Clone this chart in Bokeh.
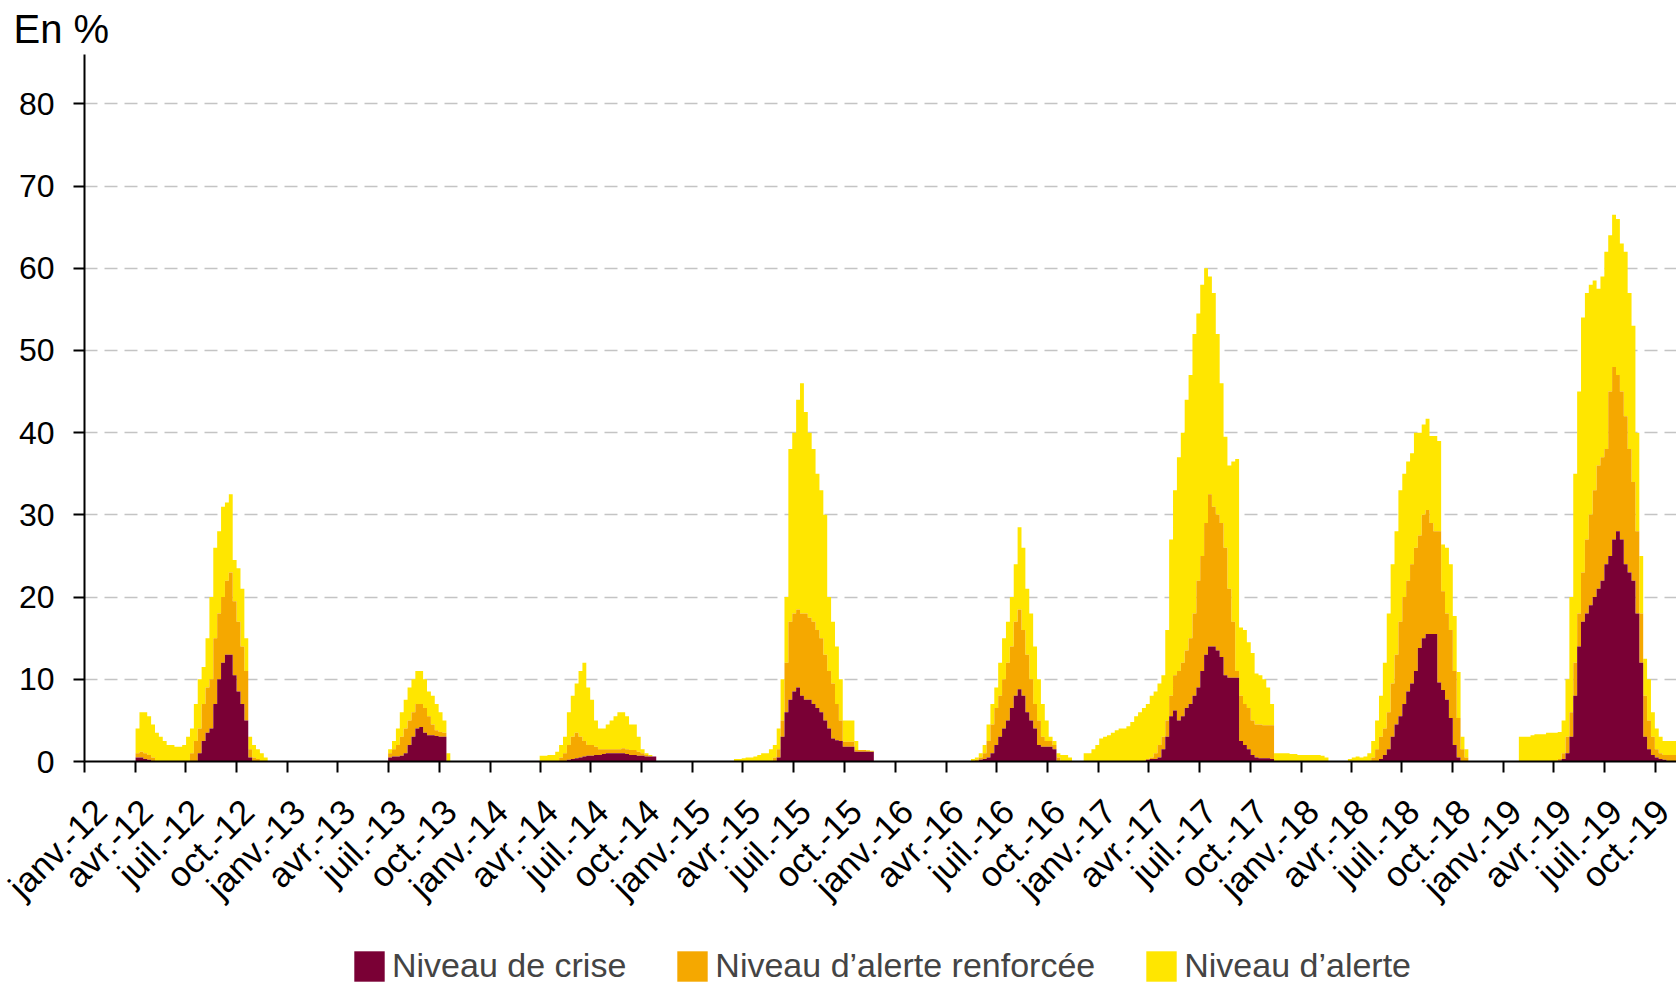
import numpy as np
import pandas as pd
from math import pi
from bokeh.plotting import figure
from bokeh.layouts import column
from bokeh.models import (ColumnDataSource, Range1d, FixedTicker, Legend, LegendItem,
                          LinearAxis)
from bokeh.embed import file_html
from bokeh.resources import INLINE

# ---------------- data ----------------
quarter_months = ["janv.", "avr.", "juil.", "oct."]
first_quarter = "2012-01-01"
last_quarter = "2019-10-01"
range_end = "2019-11-08"
y_ticks = [0, 10, 20, 30, 40, 50, 60, 70, 80]
labels = ["Niveau de crise", "Niveau d\u2019alerte renforc\u00e9e", "Niveau d\u2019alerte"]

# weekly values (%), each season starts on a Monday
start_2012 = "2012-04-02"
crise_2012 = [.5, .5, .3, .2, 0, 0, 0, 0, 0, 0, 0, 0, 0, 0, 0, 0, 1, 2.5, 3.5, 4,
              7, 10, 12, 13, 13, 10.5, 8.5, 7, 5, .5, 0, 0, 0, 0]
renf_2012 = [.5, .7, .7, .6, .5, 0, 0, 0, 0, 0, 0, 0, 0, 0, 1, 2.5, 3, 4.5, 5.5, 6,
             8, 8, 8, 9, 10, 9, 8.5, 7, 6, 1, .5, .3, 0, 0]
alerte_2012 = [3, 4.8, 5, 4.7, 4, 3.5, 3, 2.5, 2, 2, 1.8, 1.8, 2, 3, 3, 4.5, 6, 4.5, 6, 10,
               11, 10, 11, 9.5, 9.5, 5, 6.5, 7, 4, 1.5, 1.5, 1.2, 1, .5]

start_2013 = "2013-07-01"
crise_2013 = [.5, .6, .6, .7, 1, 2, 3, 4, 4.2, 3.5, 3.2, 3.2, 3.1, 3, 3, 0]
renf_2013 = [.5, .9, 1.4, 2.3, 3, 3, 3, 3, 2.8, 3, 2.3, 1.3, .7, .6, .5, 0]
alerte_2013 = [.5, 1, 2, 3, 3.5, 4, 4, 4, 4, 3.5, 3, 3.5, 3.2, 2.4, 1.5, 1]

start_2014 = "2014-03-31"
crise_2014 = [0, 0, 0, 0, 0, 0, 0, .2, .3, .4, .5, .6, .7, .7, .8,
              .8, .9, 1, 1, 1, 1, 1, .9, .8, .8, .7, .7, .6, .6, .6]
renf_2014 = [0, 0, 0, 0, 0, .5, 1, 1.8, 2.7, 3.1, 2.5, 1.9, 1.3, 1.3, 1,
             .7, .6, .5, .5, .5, .5, .6, .6, .6, .6, .5, .3, .2, 0, 0]
alerte_2014 = [.7, .7, .8, .8, 1.2, 1.5, 2, 4, 5, 6, 8, 9.5, 7, 5.5, 3.2,
               2.5, 2.5, 3, 3.5, 4, 4.5, 4.4, 4, 3.1, 3.1, 1.8, .5, .2, .2, 0]

start_2015 = "2015-03-16"
crise_2015 = [0, 0, 0, 0, 0, 0, 0, 0, 0, 0, 0, .5, 3, 6, 7.5, 8.5, 9, 8, 7.5, 7.5,
              7, 6.5, 6, 5, 4, 2.8, 2.6, 2.5, 1.8, 1.8, 1.8, 1.2, 1.2, 1.2, 1.2, 1.2]
renf_2015 = [0, 0, 0, 0, 0, 0, 0, 0, 0, 0, .5, 1, 2, 6, 9.5, 9.5, 9.5, 10, 10.5, 10,
             10, 9.5, 9, 8, 7, 6.7, 4.4, 2.5, .6, .6, .6, .2, .2, .2, .1, 0]
alerte_2015 = [.3, .3, .4, .5, .5, .6, .8, 1, 1, 1.5, 1.5, 2.5, 5, 8, 21, 22, 25.5, 28, 24.5, 22.5,
               21, 19, 18, 17, 9, 7.5, 7, 5, 2.6, 2.6, 2.6, 1.1, 0, 0, .1, .1]

start_2016 = "2016-05-16"
crise_2016 = [0, 0, .2, .3, .5, 1, 2, 3, 4, 5, 6.5, 8, 8.8, 8, 6,
              5, 4, 2, 1.8, 1.8, 1.8, 1.5, 0, 0, 0, 0]
renf_2016 = [0, .2, .3, .7, 2, 3.5, 4.5, 5, 6, 7, 7.5, 9, 9.7, 8, 7,
             5, 3, 3, 1.2, .7, .7, .5, .5, 0, 0, 0]
alerte_2016 = [.3, .3, .5, 1, 2, 2.5, 2.5, 4, 5, 5, 6, 7, 10, 10, 8,
               8, 7, 5, 4, 2.5, .5, .5, .5, .8, .8, .5]

start_2017 = "2016-12-05"
crise_2017 = [0, 0, 0, 0, 0, 0, 0, 0, 0, 0, 0, 0, 0, 0, 0, 0,
              .2, .3, .3, .5, 1.5, 3, 5.5, 6.2, 5, 5.5, 6.5, 7, 8, 9, 11,
              13, 14, 14, 13.5, 12.7, 10.5, 10.2, 10.2, 10.2, 2.5, 2, 1.5, .8, .5, .4,
              .4, .4, .3,
              0, 0, 0, 0, 0, 0, 0, 0, 0, 0, 0, 0, 0, 0]
renf_2017 = [0, 0, 0, 0, 0, 0, 0, 0, 0, 0, 0, 0, 0, 0, 0, 0,
             .1, .2, .7, 1.5, 1.5, 2, 2.5, 4.3, 6, 6.5, 7, 8, 10, 13, 14,
             16, 18.5, 17, 16.5, 16.3, 15.5, 10.8, 6.8, .8, 5.5, 5, 5, 4.2, 4, 4.1,
             4, 4, 4.1,
             0, 0, 0, 0, 0, 0, 0, 0, 0, 0, 0, 0, 0, 0]
alerte_2017 = [1, 1, 1.5, 2, 2.8, 3, 3.2, 3.5, 3.8, 4, 4, 4.3, 4.8, 5.5, 6, 6.5,
               6.7, 7.5, 7.5, 7.5, 7.5, 11, 19, 22.5, 26, 28, 30.5, 32, 34, 32.5, 33,
               31, 26.5, 26, 22, 17, 13.5, 15, 19.5, 25.8, 8.3, 9, 8, 8.2, 6.2, 6,
               5.6, 4.6, 2.6,
               1, 1, 1, 1, .9, .9, .8, .8, .8, .8, .8, .8, .7, .5]

start_2018 = "2018-03-26"
crise_2018 = [0, 0, 0, 0, 0, 0, 0, 0, .3, .8, 1.5, 3, 4.5, 5.5, 7,
              8.5, 9.5, 11, 13.8, 15, 15.5, 15.5, 15.5, 9.6, 8.7, 7.5, 5.3, 2, .5, 0, 0]
renf_2018 = [0, 0, 0, 0, 0, 0, .5, 1.5, 2.7, 3.2, 4.5, 6.5, 8.5, 11.5, 13,
             13.5, 14.5, 15, 13.7, 15, 15.1, 13.5, 12.5, 18.4, 12, 10.5, 10.7, 9, 4.8, 1.5, .5]
alerte_2018 = [.3, .5, .6, .5, .6, 1, 2, 3.5, 5, 8, 12, 14.5, 15, 16, 15,
               14.5, 13.5, 14, 12.5, 11, 11.1, 10.6, 11.6, 11, 5.7, 8, 8, 6.7, 5.6, 1.5, 1]

start_2019 = "2019-01-28"
crise_2019 = [0, 0, 0, 0, 0, 0, 0, 0, 0, 0, .1, .3, 1, 3, 8, 14, 17, 18, 19,
              20, 21, 22, 24, 25, 27, 28, 27, 24, 23, 22, 18, 12, 3, 1.5, .8, .5, .3, .2, 0,
              0, 0]
renf_2019 = [0, 0, 0, 0, 0, 0, 0, 0, 0, 0, .2, .7, 2, 3, 4, 4, 6, 9, 11,
             13, 15, 15, 14, 20, 21, 19, 18, 18, 15, 12, 10, 6, 5, 3.5, 2.2, 1, .7, .6, .8,
             .8, .8]
alerte_2019 = [3, 3, 3, 3.2, 3.3, 3.3, 3.3, 3.5, 3.5, 3.5, 3.3, 4, 7, 14, 23, 27, 31, 30, 28,
               25.5, 21.5, 22, 24, 19, 18.5, 19, 18, 20, 19, 19, 12, 7, 4.5, 5, 3, 2.5, 2, 1.7, 1.7,
               1.7, 1.7]

seasons = [
    (start_2012, crise_2012, renf_2012, alerte_2012),
    (start_2013, crise_2013, renf_2013, alerte_2013),
    (start_2014, crise_2014, renf_2014, alerte_2014),
    (start_2015, crise_2015, renf_2015, alerte_2015),
    (start_2016, crise_2016, renf_2016, alerte_2016),
    (start_2017, crise_2017, renf_2017, alerte_2017),
    (start_2018, crise_2018, renf_2018, alerte_2018),
    (start_2019, crise_2019, renf_2019, alerte_2019),
]

# ---------------- build weekly series ----------------
origin = pd.Timestamp(first_quarter)
weeks = pd.date_range("2012-01-02", "2019-11-11", freq="7D")
n = len(weeks)
crise = np.zeros(n)
renf = np.zeros(n)
alerte = np.zeros(n)
for start, c, r, a in seasons:
    i0 = weeks.get_loc(pd.Timestamp(start))
    crise[i0:i0 + len(c)] += np.array(c, dtype=float)
    renf[i0:i0 + len(r)] += np.array(r, dtype=float)
    alerte[i0:i0 + len(a)] += np.array(a, dtype=float)

x = np.array((weeks - origin).days, dtype=float)
top_c = crise
top_r = crise + renf
top_a = top_r + alerte
src = ColumnDataSource(dict(x=x, zero=np.zeros(n), c=top_c, r=top_r, a=top_a))

q_dates = pd.date_range(first_quarter, last_quarter, freq="QS")
tick_days = [int((d - origin).days) for d in q_dates]
tick_labels = [f"{quarter_months[(d.month - 1) // 3]}-{d.strftime('%y')}" for d in q_dates]
end_day = float((pd.Timestamp(range_end) - origin).days)
LABEL_SHIFT = 20  # days: rotated labels sit slightly right of their tick
label_pos = [t + LABEL_SHIFT for t in tick_days]

# ---------------- figure ----------------
FONT = "Liberation Sans"
COL_C, COL_R, COL_A = "#7A0035", "#F5A800", "#FFE600"
W = 1676
H1 = 925

p = figure(width=W, height=H1, output_backend="svg", toolbar_location=None,
           x_range=Range1d(0, end_day), y_range=Range1d(0, 86),
           min_border_left=84, min_border_right=0, min_border_top=54,
           min_border_bottom=H1 - 761, title="En %")
p.outline_line_color = None
p.background_fill_color = "white"

p.title.text_font = FONT
p.title.text_font_size = "40px"
p.title.text_font_style = "normal"
p.title.text_color = "black"
p.title.text_line_height = 1.0
p.title.align = "left"
p.title.offset = -71
p.title.standoff = 8

ra = p.varea_step(x="x", y1="r", y2="a", step_mode="after", source=src, fill_color=COL_A)
rr = p.varea_step(x="x", y1="c", y2="r", step_mode="after", source=src, fill_color=COL_R)
rc = p.varea_step(x="x", y1="zero", y2="c", step_mode="after", source=src, fill_color=COL_C)

for ax in (p.xaxis[0], p.yaxis[0]):
    ax.axis_line_color = "black"
    ax.axis_line_width = 2
    ax.major_tick_line_color = "black"
    ax.major_tick_line_width = 2
    ax.major_tick_in = 0
    ax.major_tick_out = 11
    ax.minor_tick_line_color = None
    ax.major_label_text_font = FONT
    ax.major_label_text_color = "black"

# tick marks only on the main x axis
p.xaxis[0].ticker = FixedTicker(ticks=tick_days)
p.xaxis[0].major_label_overrides = {t: "" for t in tick_days}
p.xaxis[0].major_label_text_font_size = "0px"
p.xaxis[0].major_label_standoff = 0

# labels on a second axis below
lab_axis = LinearAxis(ticker=FixedTicker(ticks=label_pos),
                      major_label_overrides={t: l for t, l in zip(label_pos, tick_labels)},
                      axis_line_color=None, major_tick_line_color=None,
                      minor_tick_line_color=None, major_tick_in=0, major_tick_out=0,
                      major_label_standoff=33, major_label_orientation=pi / 4,
                      major_label_text_font=FONT, major_label_text_font_size="35px",
                      major_label_text_color="black")
p.add_layout(lab_axis, "below")

p.yaxis.ticker = FixedTicker(ticks=y_ticks)
p.yaxis.major_label_text_font_size = "32px"
p.yaxis.major_label_standoff = 19

p.xgrid.visible = False
p.ygrid.ticker = FixedTicker(ticks=y_ticks[1:])
p.ygrid.grid_line_color = "#c4c4c4"
p.ygrid.grid_line_dash = "13 7"
p.ygrid.grid_line_width = 1.5

# ---------------- legend strip ----------------
H2 = 985 - H1
pl = figure(width=W, height=H2, output_backend="svg", toolbar_location=None,
            x_range=Range1d(0, 1), y_range=Range1d(0, 1),
            x_axis_location=None, y_axis_location=None, min_border=0)
pl.outline_line_color = None
pl.xgrid.visible = False
pl.ygrid.visible = False
lc = pl.varea(x=[0, 1], y1=[0, 0], y2=[0, 0], fill_color=COL_C)
lr = pl.varea(x=[0, 1], y1=[0, 0], y2=[0, 0], fill_color=COL_R)
la = pl.varea(x=[0, 1], y1=[0, 0], y2=[0, 0], fill_color=COL_A)
legend = Legend(items=[LegendItem(label=labels[0], renderers=[lc]),
                       LegendItem(label=labels[1], renderers=[lr]),
                       LegendItem(label=labels[2], renderers=[la])],
                orientation="horizontal", location=(266, 0),
                glyph_width=38, glyph_height=38, label_standoff=4, spacing=47,
                label_text_font=FONT, label_text_font_size="34px",
                border_line_color=None, background_fill_alpha=0,
                padding=0, margin=0)
pl.add_layout(legend, "center")

layout = column(p, pl, spacing=0)
open("out.html", "w").write(file_html(layout, INLINE))
